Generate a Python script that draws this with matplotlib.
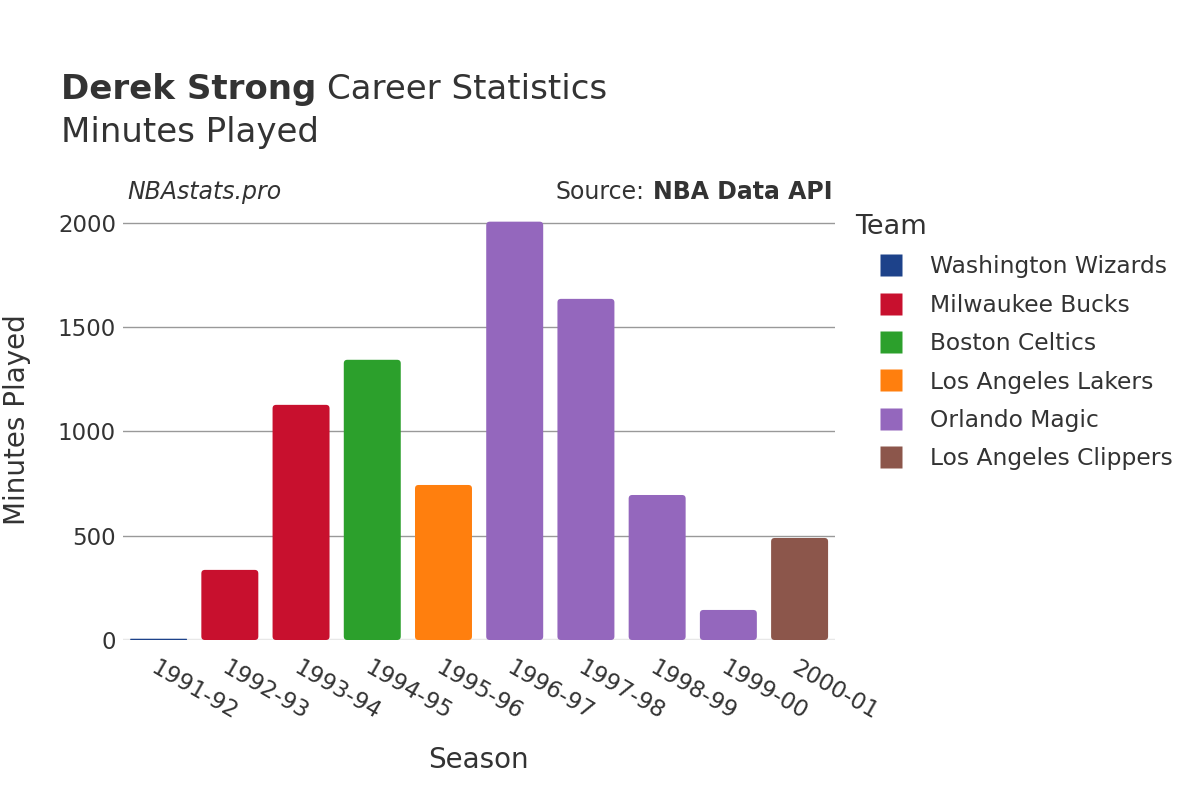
import matplotlib.pyplot as plt
from matplotlib.lines import Line2D
from matplotlib.patches import FancyBboxPatch

seasons = ['1991-92', '1992-93', '1993-94', '1994-95', '1995-96',
           '1996-97', '1997-98', '1998-99', '1999-00', '2000-01']
minutes = [6, 336, 1127, 1343, 743, 2005, 1635, 695, 144, 489]
teams = ['Washington Wizards', 'Milwaukee Bucks', 'Milwaukee Bucks', 'Boston Celtics',
         'Los Angeles Lakers', 'Orlando Magic', 'Orlando Magic', 'Orlando Magic',
         'Orlando Magic', 'Los Angeles Clippers']
team_order = ['Washington Wizards', 'Milwaukee Bucks', 'Boston Celtics',
              'Los Angeles Lakers', 'Orlando Magic', 'Los Angeles Clippers']
team_colors = {
    'Washington Wizards': '#1d428a',
    'Milwaukee Bucks': '#c8102e',
    'Boston Celtics': '#2ca02c',
    'Los Angeles Lakers': '#ff7f0e',
    'Orlando Magic': '#9467bd',
    'Los Angeles Clippers': '#8c564b',
}

txt = '#333333'
plt.rcParams['font.family'] = ['DejaVu Sans']

fig = plt.figure(figsize=(12, 8), dpi=100)
ax = fig.add_axes([0.1025, 0.2, 0.5935, 0.549])

ymax = 2105
ax.set_xlim(-0.5, len(seasons) - 0.5)
ax.set_ylim(0, ymax)

# bars with slightly rounded corners (plotly look)
bar_w = 0.8
px_per_x = 0.5935 * 1200 / len(seasons)
px_per_y = 0.549 * 800 / ymax
aspect = px_per_x / px_per_y
for i, (m, t) in enumerate(zip(minutes, teams)):
    r = min(0.05, m / aspect / 2)
    p = FancyBboxPatch((i - bar_w / 2, 0), bar_w, m,
                       boxstyle='round,pad=0,rounding_size=%f' % r,
                       mutation_aspect=aspect, facecolor=team_colors[t],
                       edgecolor='none', zorder=3)
    ax.add_patch(p)

ax.set_yticks([0, 500, 1000, 1500, 2000])
ax.yaxis.grid(True, color='#999999', linewidth=1, zorder=0)
ax.axhline(0, color='#e8e8e8', linewidth=2.5, zorder=2)
for s in ax.spines.values():
    s.set_visible(False)
ax.tick_params(axis='both', length=0, labelsize=16.5, colors=txt)
ax.tick_params(axis='y', pad=5)
ax.set_xticks(range(len(seasons)))
ax.set_xticklabels(seasons, rotation=-30, ha='left', va='top', rotation_mode='anchor')
ax.tick_params(axis='x', pad=12)

fig.text(0.0145, 0.475, 'Minutes Played', rotation=90, ha='center', va='center',
         fontsize=20, color=txt)
fig.text(0.399, 0.05, 'Season', ha='center', va='center', fontsize=20, color=txt)

# title: bold name followed by regular text
r = fig.canvas.get_renderer()
t1 = fig.text(0.051, 0.876, 'Derek Strong', fontsize=24.5, fontweight='bold',
              color=txt, va='baseline')
bb = t1.get_window_extent(renderer=r)
fig.text(bb.x1 / 1200 + 0.009, 0.876, 'Career Statistics', fontsize=24.5,
         color=txt, va='baseline')
fig.text(0.051, 0.822, 'Minutes Played', fontsize=24.5, color=txt, va='baseline')

fig.text(0.106, 0.751, 'NBAstats.pro', fontsize=17, style='italic', color=txt, va='baseline')
t2 = fig.text(0.694, 0.751, 'NBA Data API', fontsize=17, fontweight='bold', color=txt,
              va='baseline', ha='right')
bb2 = t2.get_window_extent(renderer=r)
fig.text(bb2.x0 / 1200 - 0.007, 0.751, 'Source:', fontsize=17, color=txt,
         va='baseline', ha='right')

handles = [Line2D([], [], linestyle='none', marker='s', markersize=16,
                  markerfacecolor=team_colors[t], markeredgecolor='none', label=t)
           for t in team_order]
leg = fig.legend(handles=handles, title='Team', loc='upper left',
                 bbox_to_anchor=(0.713, 0.7325), frameon=False, fontsize=16.8,
                 title_fontsize=19.5, handlelength=3.0, handletextpad=0.2,
                 labelspacing=0.66, borderaxespad=0, borderpad=0)
leg._legend_box.align = 'left'
leg.get_title().set_color(txt)
for t in leg.get_texts():
    t.set_color(txt)

fig.savefig('out.png', dpi=100)
